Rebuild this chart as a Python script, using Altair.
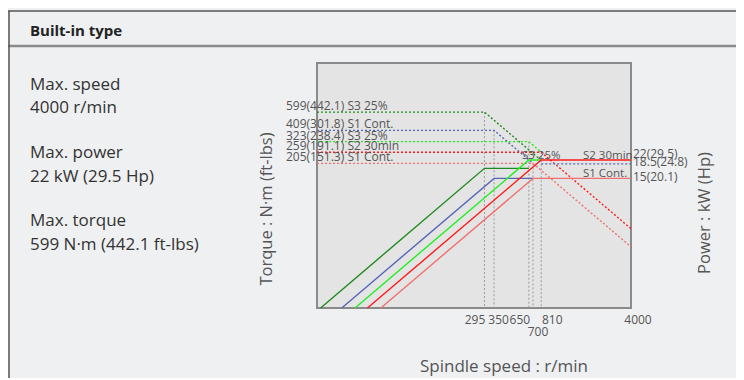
import altair as alt
import pandas as pd

# ---------------- data ----------------
series = ["S3 25% (low)", "S1 Cont. (low)", "S3 25% (high)", "S2 30min", "S1 Cont."]
series_colors = ["#1f8a1f", "#5566b8", "#22ee22", "#ff1a1a", "#f07070"]

torque_nm = [599, 409, 323, 259, 205]
torque_labels = ["599(442.1) S3 25%", "409(301.8) S1 Cont.", "323(238.4) S3 25%",
                 "259(191.1) S2 30min", "205(151.3) S1 Cont."]
base_speed = [295, 350, 650, 810, 700]
torque_end_speed = [790, 700, 810, 4000, 4000]
torque_end_value = [224, 205, 259, 52.4, 35.9]

power_kw = [18.5, 15, 22, 22, 15]
power_start_speed = [16, 23.3, 29.5, 36.8, 46.7]
power_end_speed = [650, 700, 810, 4000, 4000]

marker_torque = 203
marker_speeds = [810, 4000]

power_labels = ["22(29.5)", "18.5(24.8)", "15(20.1)"]
power_label_kw = [22, 18.5, 15]
power_label_dy = [-2.5, -2, 2.5]

duty_labels = ["S3 25%", "S2 30min", "S1 Cont."]
duty_label_kw = [22, 22, 15]

x_ticks = [295, 350, 650, 700, 810, 4000]
x_tick_dx = [-9.5, 4.5, -9, 5, 11, 7]
x_tick_row = [0, 0, 0, 1, 0, 0]

speed_min, speed_max = 15, 4000
torque_min, torque_max = 10, 1670
power_min, power_max = 1, 167

W, H = 314, 245
FONT = "Open Sans"
GRAY = "#555555"

# ---------------- frames ----------------
trows = []
for i, s in enumerate(series):
    pts = [(speed_min, torque_nm[i]), (base_speed[i], torque_nm[i]),
           (torque_end_speed[i], torque_end_value[i])]
    for k, (n, t) in enumerate(pts):
        trows.append({"series": s, "line": s, "order": k, "speed": n, "torque": t})
for k, n in enumerate(marker_speeds):
    trows.append({"series": series[1], "line": "marker", "order": k, "speed": n, "torque": marker_torque})
tdf = pd.DataFrame(trows)

prows = []
for i, s in enumerate(series):
    pts = [(power_start_speed[i], power_min), (base_speed[i], power_kw[i]),
           (power_end_speed[i], power_kw[i])]
    for k, (n, p) in enumerate(pts):
        prows.append({"series": s, "order": k, "speed": n, "power": p})
pdf = pd.DataFrame(prows)

vdf = pd.DataFrame({"speed": base_speed, "torque": torque_nm})
tl_df = pd.DataFrame({"label": torque_labels, "torque": torque_nm})

xs = alt.Scale(type="log", domain=[speed_min, speed_max])
ys_t = alt.Scale(type="log", domain=[torque_min, torque_max])
ys_p = alt.Scale(type="log", domain=[power_min, power_max])
cscale = alt.Scale(domain=series, range=series_colors)

X = alt.X("speed:Q", scale=xs, axis=None)

layers = []

# vertical guide lines
layers.append(
    alt.Chart(vdf).mark_rule(color="#9a9a9a", strokeDash=[2, 2], strokeWidth=1).encode(
        x=X, y=alt.Y("torque:Q", scale=ys_t, axis=None), y2=alt.value(H)
    )
)

# torque (dotted)
layers.append(
    alt.Chart(tdf).mark_line(strokeDash=[2, 2], strokeWidth=1.4).encode(
        x=X,
        y=alt.Y("torque:Q", scale=ys_t, axis=None),
        color=alt.Color("series:N", scale=cscale, legend=None),
        detail="line:N",
        order="order:Q",
    )
)

# power (solid)
layers.append(
    alt.Chart(pdf).mark_line(strokeWidth=1.4).encode(
        x=X,
        y=alt.Y("power:Q", scale=ys_p, axis=None),
        color=alt.Color("series:N", scale=cscale, legend=None),
        detail="series:N",
        order="order:Q",
    )
)

# torque labels
layers.append(
    alt.Chart(tl_df).mark_text(align="left", baseline="alphabetic", dy=-2, font=FONT,
                               fontSize=12, color=GRAY).encode(
        x=alt.value(-31), y=alt.Y("torque:Q", scale=ys_t, axis=None), text="label:N"
    )
)

# power labels (right side)
for lab, kw, dy in zip(power_labels, power_label_kw, power_label_dy):
    layers.append(
        alt.Chart(pd.DataFrame({"kw": [kw], "label": [lab]})).mark_text(
            align="left", baseline="alphabetic", dy=dy, font=FONT, fontSize=12, color=GRAY
        ).encode(x=alt.value(316), y=alt.Y("kw:Q", scale=ys_p, axis=None), text="label:N")
    )

# duty labels inside the plot
duty_x = [205, 266, 266]
for lab, kw, px in zip(duty_labels, duty_label_kw, duty_x):
    layers.append(
        alt.Chart(pd.DataFrame({"kw": [kw], "label": [lab]})).mark_text(
            align="left", baseline="alphabetic", dy=-1.5, font=FONT, fontSize=11.5, color=GRAY
        ).encode(x=alt.value(px), y=alt.Y("kw:Q", scale=ys_p, axis=None), text="label:N")
    )

# x tick labels
for v, dx, row in zip(x_ticks, x_tick_dx, x_tick_row):
    layers.append(
        alt.Chart(pd.DataFrame({"speed": [v], "label": [str(v)]})).mark_text(
            align="center", baseline="middle", dx=dx, font=FONT, fontSize=12, color=GRAY
        ).encode(x=X, y=alt.value(H + 12 + 12 * row), text="label:N")
    )

one = pd.DataFrame({"k": [0]})

def txt(s, x, y, size, color, weight="normal", angle=0, align="left"):
    return alt.Chart(one).mark_text(
        text=s, align=align, baseline="middle", font=FONT, fontSize=size,
        color=color, fontWeight=weight, angle=angle
    ).encode(x=alt.value(x), y=alt.value(y))

def rule(x1, x2, y1, y2, color, width):
    return alt.Chart(one).mark_rule(color=color, strokeWidth=width).encode(
        x=alt.value(x1), x2=alt.value(x2), y=alt.value(y1), y2=alt.value(y2)
    )

# axis titles
layers.append(txt("Spindle speed : r/min", 187, 304, 17, GRAY, align="center"))
layers.append(txt("Torque : N·m (ft-lbs)", -50, 146, 16.5, GRAY, angle=270, align="center"))
layers.append(txt("Power : kW (Hp)", 388, 150, 16.5, GRAY, angle=270, align="center"))

# header / frame
layers.append(rule(-309, 419, -52, -52, "#555555", 1.5))
layers.append(rule(-309, 419, -17, -17, "#8a8a8a", 2.5))
layers.append(rule(-308, -308, -52, 330, "#555555", 1.5))
layers.append(txt("Built-in type", -287, -32, 15, "#222222", weight="bold"))

# left panel
panel_lines = ["Max. speed", "4000 r/min", "Max. power", "22 kW (29.5 Hp)",
               "Max. torque", "599 N·m (442.1 ft-lbs)"]
panel_y = [22, 45, 90, 114, 158, 182]
for s, y in zip(panel_lines, panel_y):
    layers.append(txt(s, -287, y, 17, "#333333"))

chart = (
    alt.layer(*layers)
    .resolve_scale(y="independent")
    .properties(
        width=W, height=H,
        background="#eff0f2",
        padding={"left": 309, "top": 55, "right": 105, "bottom": 70},
        autosize=alt.AutoSizeParams(type="none"),
    )
    .configure_view(fill="#e4e4e4", stroke="#8a8a8a", strokeWidth=2)
)

chart.save("out.html", embed_options={"renderer": "svg", "actions": False})
